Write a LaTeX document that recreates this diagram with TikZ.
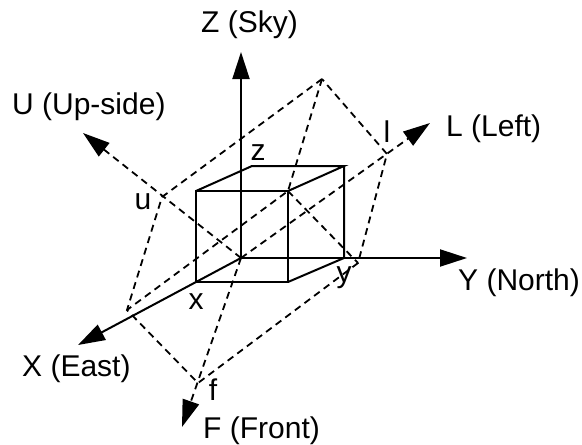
\documentclass[tikz,border=0pt]{standalone}
\usepackage{fontspec}
\setmainfont{Liberation Sans}
\usetikzlibrary{arrows.meta}
\begin{document}
\begin{tikzpicture}[
  x=1pt, y=-1pt,
  edge/.style={line width=2pt, draw=black},
  axis/.style={line width=2pt, draw=black, -{Triangle[length=27pt,width=17pt]}},
  dashaxis/.style={axis, line width=1.8pt, dash pattern=on 7pt off 5pt},
  dashedge/.style={line width=1.8pt, draw=black, dash pattern=on 7pt off 5pt},
  title/.style={font=\fontsize{30}{30}\selectfont, inner sep=0pt, anchor=base west},
  point/.style={font=\fontsize{30}{30}\selectfont, inner sep=0pt, anchor=base}
]
\useasboundingbox (0,0) rectangle (582,445);

% Axis ends
\coordinate (o)  at (241,258);
\coordinate (zt) at (241,52);
\coordinate (yt) at (467,258);
\coordinate (xt) at (78,345);
\coordinate (ut) at (83,133);
\coordinate (lt) at (430,123);
\coordinate (ft) at (182,427);

% Cube
\coordinate (a) at (196,191);
\coordinate (b) at (288,191);
\coordinate (c) at (288,282);
\coordinate (d) at (196,282);
\coordinate (e) at (252,166);
\coordinate (g) at (344,166);
\coordinate (h) at (344,258);

% Rotated box
\coordinate (pu)  at (162,197);
\coordinate (pt)  at (322,79);
\coordinate (pl)  at (387,154);
\coordinate (pc)  at (127,310);
\coordinate (pf)  at (198,383);
\coordinate (pr)  at (358,263);

% Edges (cube)
\draw[edge] (a)--(b)--(c)--(d)--cycle;
\draw[edge] (a)--(e)--(g)--(b);
\draw[edge] (g)--(h)--(c);

% Edges (rotated box)
\draw[dashedge] (pt)--(pu)--(pc)--(pf)--(pr)--(pl)--(pt);
\draw[dashedge] (pt)--(b)--(pc);
\draw[dashedge] (b)--(pr);

% Axes
\draw[axis] (o)--(zt);
\draw[axis] (o)--(yt);
\draw[axis] (o)--(xt);
\draw[dashaxis] (o)--(ut);
\draw[dashaxis] (o)--(lt);
\draw[dashaxis] (o)--(ft);

% Labels
\node[title] (zlabel) at (201,32)  {Z (Sky)};
\node[title] (ulabel) at (12,114)  {U (Up-side)};
\node[title] (llabel) at (446,136) {L (Left)};
\node[title] (ylabel) at (458,290) {Y (North)};
\node[title] (xlabel) at (22,376)  {X (East)};
\node[title] (flabel) at (203,438) {F (Front)};

\node[point] (zpt) at (258,160) {z};
\node[point] (upt) at (143,209) {u};
\node[point] (lpt) at (387,142) {l};
\node[point] (xpt) at (196,309) {x};
\node[point] (ypt) at (344,282) {y};
\node[point] (fpt) at (213,400) {f};

\end{tikzpicture}
\end{document}
